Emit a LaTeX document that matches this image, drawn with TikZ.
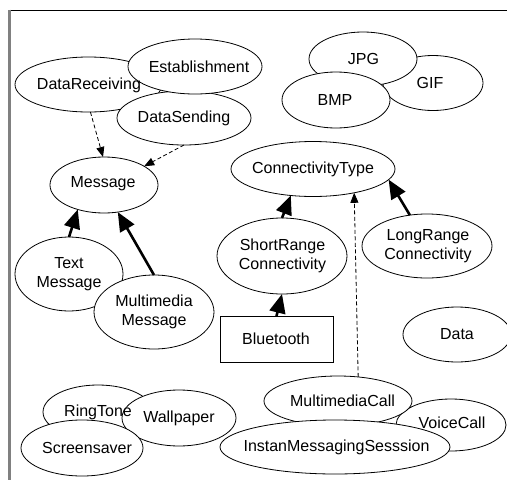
\documentclass[tikz,border=0pt]{standalone}
\usepackage{fontspec}
\setmainfont{Liberation Sans}
\usetikzlibrary{arrows.meta,shapes.geometric}
\begin{document}
\begin{tikzpicture}[x=1pt,y=-1pt,
  ell/.style={draw, ellipse, fill=white, line width=0.8pt, inner sep=0pt, outer sep=0pt},
  boxnode/.style={draw, rectangle, fill=white, line width=1pt, inner sep=0pt, outer sep=0pt},
  txt/.style={font=\fontsize{16}{18.5}\selectfont, align=center, inner sep=0pt},
  strong/.style={line width=2.6pt, -{Triangle[length=19pt,width=16pt]}},
  weak/.style={line width=0.8pt, dash pattern=on 4pt off 2.5pt, -{Triangle[length=10pt,width=8pt]}},
]
\useasboundingbox (0,0) rectangle (507,480);
% frame
\draw[black, line width=1pt] (10,10) -- (507,10);
\draw[gray, line width=2.5pt] (9.5,9.5) -- (9.5,480);

% ellipses (drawing order = stacking order)
\node[ell, minimum width=147pt, minimum height=55pt] (drcv) at (88.5,84.5) {};
\node[ell, minimum width=134pt, minimum height=54pt] (dsnd) at (184,118) {};
\node[ell, minimum width=134pt, minimum height=55pt] (est) at (195,66.5) {};
\node[ell, minimum width=108pt, minimum height=56pt] (msg) at (104,185) {};

\node[ell, minimum width=100pt, minimum height=55pt] (gif) at (433,83) {};
\node[ell, minimum width=108pt, minimum height=54pt] (jpg) at (363,59) {};
\node[ell, minimum width=108pt, minimum height=56pt] (bmp) at (336,100) {};

\node[ell, minimum width=164pt, minimum height=55pt] (ct) at (313,169) {};
\node[ell, minimum width=130pt, minimum height=76pt] (sr) at (282,256) {};
\node[ell, minimum width=130pt, minimum height=64pt] (lr) at (427,246) {};
\node[boxnode, minimum width=113pt, minimum height=46pt] (bt) at (276.5,339) {};
\node[ell, minimum width=108pt, minimum height=55pt] (data) at (457,334.5) {};

\node[ell, minimum width=108pt, minimum height=74pt] (tm) at (69,274) {};
\node[ell, minimum width=120pt, minimum height=74pt] (mm) at (154,312) {};

\node[ell, minimum width=110pt, minimum height=54pt] (ring) at (98,412) {};
\node[ell, minimum width=114pt, minimum height=56pt] (wall) at (179,418) {};
\node[ell, minimum width=122pt, minimum height=56pt] (scr) at (82,448) {};

\node[ell, minimum width=110pt, minimum height=52pt] (vc) at (451,425) {};
\node[ell, minimum width=148pt, minimum height=50pt] (mc) at (338,401) {};
\node[ell, minimum width=230pt, minimum height=54pt] (ims) at (335,447) {};

% texts
\node[txt] (drcv-t) at (89,85) {DataReceiving};
\node[txt] (dsnd-t) at (184,118) {DataSending};
\node[txt] (est-t) at (199,67) {Establishment};
\node[txt] (msg-t) at (103,184) {Message};
\node[txt] (gif-t) at (430,83) {GIF};
\node[txt] (jpg-t) at (363.5,59) {JPG};
\node[txt] (bmp-t) at (335,100) {BMP};
\node[txt] (ct-t) at (313,169) {ConnectivityType};
\node[txt] (sr-t) at (282.5,256) {ShortRange\\Connectivity};
\node[txt] (lr-t) at (428,246) {LongRange\\Connectivity};
\node[txt] (bt-t) at (276,339) {Bluetooth};
\node[txt] (data-t) at (457,334) {Data};
\node[txt] (tm-t) at (69,274) {Text\\Message};
\node[txt] (mm-t) at (154,312) {Multimedia\\Message};
\node[txt] (ring-t) at (98,412) {RingTone};
\node[txt] (wall-t) at (179,418) {Wallpaper};
\node[txt] (scr-t) at (87,448) {Screensaver};
\node[txt] (vc-t) at (452,423) {VoiceCall};
\node[txt] (mc-t) at (342.5,401) {MultimediaCall};
\node[txt] (ims-t) at (336.5,447) {InstanMessagingSesssion};

% connectors
\draw[weak] (drcv.274) -- (msg.92);
\draw[weak] (dsnd.south) -- (msg.25);
\draw[strong] (tm.north) -- (msg.223);
\draw[strong] (mm.north) -- (msg.297);
\draw[strong] (bt.north) -- (sr.south);
\draw[strong] (sr.north) -- (ct.230);
\draw[strong] (lr.119) -- (ct.352);
\draw[weak] (mc.50) -- (ct.330);
\end{tikzpicture}
\end{document}
